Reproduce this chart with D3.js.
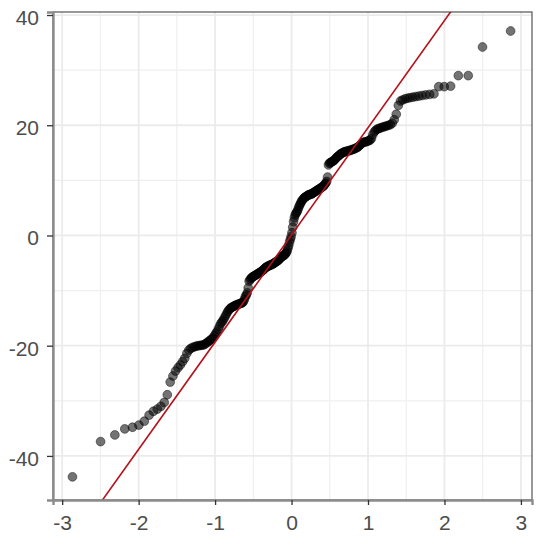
<!DOCTYPE html>
<html lang="en">

<head>
    <meta charset="utf-8"/>
    <script src="https://d3js.org/d3.v7.min.js"></script>
    <style>
        body { margin: 0; background: #fff; }
        text { font-family: "Liberation Sans", Arial, sans-serif; }
    </style>
</head>
<body>

<script>
    // Sorted sample values
    var sampleValues = [
        -43.8, -37.4, -36.2, -35.1, -34.8, -34.4, -33.7, -32.6, -31.9, -31.5,
        -31.0, -30.3, -28.9, -26.6, -25.5, -24.6, -24.0, -23.5, -22.9, -22.3,
        -21.4, -20.8, -20.5, -20.3, -20.2, -20.1, -20.0, -20.0, -19.9, -19.9,
        -19.8, -19.6, -19.4, -19.2, -19.0, -18.8, -18.6, -18.2, -17.8, -17.5,
        -17.0, -16.5, -16.0, -15.7, -15.4, -15.0, -14.6, -14.2, -13.8, -13.5,
        -13.3, -13.1, -13.0, -12.9, -12.8, -12.7, -12.6, -12.5, -12.5, -12.4,
        -12.3, -12.3, -12.2, -12.0, -11.6, -11.1, -10.8, -10.4, -9.5, -8.3,
        -8.0, -7.8, -7.6, -7.5, -7.4, -7.3, -7.2, -7.1, -7.0, -6.9,
        -6.8, -6.7, -6.6, -6.5, -6.4, -6.2, -6.1, -5.9, -5.8, -5.7,
        -5.6, -5.5, -5.5, -5.4, -5.3, -5.3, -5.2, -5.1, -5.0, -4.9,
        -4.8, -4.7, -4.6, -4.5, -4.3, -4.2, -4.0, -3.9, -3.8, -3.7,
        -3.6, -3.5, -3.3, -3.1, -2.8, -2.3, -1.8, -1.2, -0.7, -0.2,
        0.5, 1.5, 2.5, 3.2, 3.7, 4.0, 4.2, 4.5, 4.9, 5.3,
        5.6, 5.9, 6.2, 6.4, 6.6, 6.8, 6.9, 7.0, 7.1, 7.2,
        7.3, 7.4, 7.4, 7.5, 7.5, 7.6, 7.7, 7.8, 7.9, 8.0,
        8.1, 8.2, 8.3, 8.4, 8.5, 8.6, 8.7, 8.8, 8.9, 9.1,
        9.3, 9.5, 9.8, 10.6, 12.8, 13.1, 13.2, 13.3, 13.4, 13.5,
        13.6, 13.8, 14.0, 14.2, 14.3, 14.5, 14.6, 14.8, 14.9, 15.0,
        15.1, 15.2, 15.2, 15.3, 15.3, 15.4, 15.4, 15.5, 15.6, 15.6,
        15.7, 15.8, 15.9, 16.0, 16.2, 16.4, 16.6, 16.8, 16.9, 17.0,
        17.0, 17.1, 17.2, 17.3, 17.6, 18.3, 18.8, 19.1, 19.3, 19.4,
        19.5, 19.6, 19.7, 19.8, 19.9, 20.0, 20.1, 20.4, 21.0, 22.0,
        23.6, 24.4, 24.6, 24.8, 24.9, 25.0, 25.1, 25.2, 25.3, 25.4,
        25.5, 25.6, 25.7, 27.0, 27.0, 27.1, 29.0, 29.0, 34.2, 37.1
    ];

    // Reference line (intercept / slope)
    var lineIntercept = 0.1;
    var lineSlope = 19.45;

    // Axis ticks and visible ranges
    var xTicks = [-3, -2, -1, 0, 1, 2, 3];
    var yTicks = [-40, -20, 0, 20, 40];
    var xMinorTicks = [-2.5, -1.5, -0.5, 0.5, 1.5, 2.5];
    var yMinorTicks = [-30, -10, 10, 30];
    var xRange = [-3.12, 3.145];
    var yRange = [-48.0, 40.55];

    // Inverse of the standard normal CDF (Acklam's approximation)
    function qnorm(p) {
        var a = [-39.69683028665376, 220.9460984245205, -275.9285104469687, 138.3577518672690, -30.66479806614716, 2.506628277459239];
        var b = [-54.47609879822406, 161.5858368580409, -155.6989798598866, 66.80131188771972, -13.28068155288572];
        var c = [-0.007784894002430293, -0.3223964580411365, -2.400758277161838, -2.549732539343734, 4.374664141464968, 2.938163982698783];
        var d = [0.007784695709041462, 0.3224671290700398, 2.445134137142996, 3.754408661907416];
        var q, r;
        if (p < 0.02425) {
            q = Math.sqrt(-2 * Math.log(p));
            return (((((c[0]*q + c[1])*q + c[2])*q + c[3])*q + c[4])*q + c[5]) /
                ((((d[0]*q + d[1])*q + d[2])*q + d[3])*q + 1);
        } else if (p > 1 - 0.02425) {
            q = Math.sqrt(-2 * Math.log(1 - p));
            return -(((((c[0]*q + c[1])*q + c[2])*q + c[3])*q + c[4])*q + c[5]) /
                ((((d[0]*q + d[1])*q + d[2])*q + d[3])*q + 1);
        }
        q = p - 0.5;
        r = q * q;
        return (((((a[0]*r + a[1])*r + a[2])*r + a[3])*r + a[4])*r + a[5]) * q /
            (((((b[0]*r + b[1])*r + b[2])*r + b[3])*r + b[4])*r + 1);
    }

    // Pair each sample value with its theoretical quantile (like ppoints)
    var n = sampleValues.length;
    var data = sampleValues.map(function(v, i) {
        return { theoretical: qnorm((i + 0.5) / n), sample: v };
    });

    var width = 550;
    var height = 546;
    var panel = {left: 53, right: 532, top: 12, bottom: 500};

    var svg = d3.select("body")
        .append("svg")
        .attr("width", width)
        .attr("height", height);

    svg.append("rect")
        .attr("width", width)
        .attr("height", height)
        .attr("fill", "#ffffff");

    var x = d3.scaleLinear().domain(xRange).range([panel.left, panel.right]);
    var y = d3.scaleLinear().domain(yRange).range([panel.bottom, panel.top]);

    // Grid lines: minor first, then major
    var grid = svg.append("g");
    grid.selectAll(".vminor").data(xMinorTicks).enter().append("line")
        .attr("x1", x).attr("x2", x)
        .attr("y1", panel.top).attr("y2", panel.bottom)
        .attr("stroke", "#efefef").attr("stroke-width", 1.2);
    grid.selectAll(".hminor").data(yMinorTicks).enter().append("line")
        .attr("x1", panel.left).attr("x2", panel.right)
        .attr("y1", y).attr("y2", y)
        .attr("stroke", "#efefef").attr("stroke-width", 1.2);
    grid.selectAll(".vmajor").data(xTicks).enter().append("line")
        .attr("x1", x).attr("x2", x)
        .attr("y1", panel.top).attr("y2", panel.bottom)
        .attr("stroke", "#ebebeb").attr("stroke-width", 1.8);
    grid.selectAll(".hmajor").data(yTicks).enter().append("line")
        .attr("x1", panel.left).attr("x2", panel.right)
        .attr("y1", y).attr("y2", y)
        .attr("stroke", "#ebebeb").attr("stroke-width", 1.8);

    // Clip marks to the panel
    svg.append("clipPath").attr("id", "panelClip")
        .append("rect")
        .attr("x", panel.left).attr("y", panel.top)
        .attr("width", panel.right - panel.left)
        .attr("height", panel.bottom - panel.top);

    var marks = svg.append("g").attr("clip-path", "url(#panelClip)");

    // The points
    marks.selectAll("circle")
        .data(data)
        .enter()
        .append("circle")
        .attr("cx", function(d) { return x(d.theoretical); })
        .attr("cy", function(d) { return y(d.sample); })
        .attr("r", 4.4)
        .attr("fill", "#000")
        .attr("fill-opacity", 0.55)
        .attr("stroke", "#000")
        .attr("stroke-opacity", 0.45)
        .attr("stroke-width", 1);

    // The reference line across the full x range
    marks.append("line")
        .attr("x1", x(xRange[0]))
        .attr("y1", y(lineIntercept + lineSlope * xRange[0]))
        .attr("x2", x(xRange[1]))
        .attr("y2", y(lineIntercept + lineSlope * xRange[1]))
        .attr("stroke", "#b3121a")
        .attr("stroke-width", 1.6);

    // Panel border (top / right)
    svg.append("rect")
        .attr("x", panel.left).attr("y", panel.top)
        .attr("width", panel.right - panel.left)
        .attr("height", panel.bottom - panel.top)
        .attr("fill", "none")
        .attr("stroke", "#333")
        .attr("stroke-width", 1);

    // Axes
    var xAxis = d3.axisBottom(x).tickValues(xTicks).tickSize(5).tickPadding(10)
        .tickFormat(function(d) { return String(d); });
    var yAxis = d3.axisLeft(y).tickValues(yTicks).tickSize(6).tickPadding(8)
        .tickFormat(function(d) { return String(d); });

    var gx = svg.append("g")
        .attr("transform", "translate(0," + panel.bottom + ")")
        .call(xAxis);
    var gy = svg.append("g")
        .attr("transform", "translate(" + panel.left + ",0)")
        .call(yAxis);

    [gx, gy].forEach(function(g) {
        g.select(".domain").attr("stroke", "#8c8c8c").attr("stroke-width", 2.4);
        g.selectAll(".tick line").attr("stroke", "#333").attr("stroke-width", 1.3);
        g.selectAll(".tick text")
            .attr("fill", "#4d4d4d")
            .style("font-size", "21px");
    });
    gy.selectAll(".tick text").attr("dy", "0.45em");
    gx.selectAll(".tick text").attr("dy", "0.72em");
</script>
</body>
</html>
